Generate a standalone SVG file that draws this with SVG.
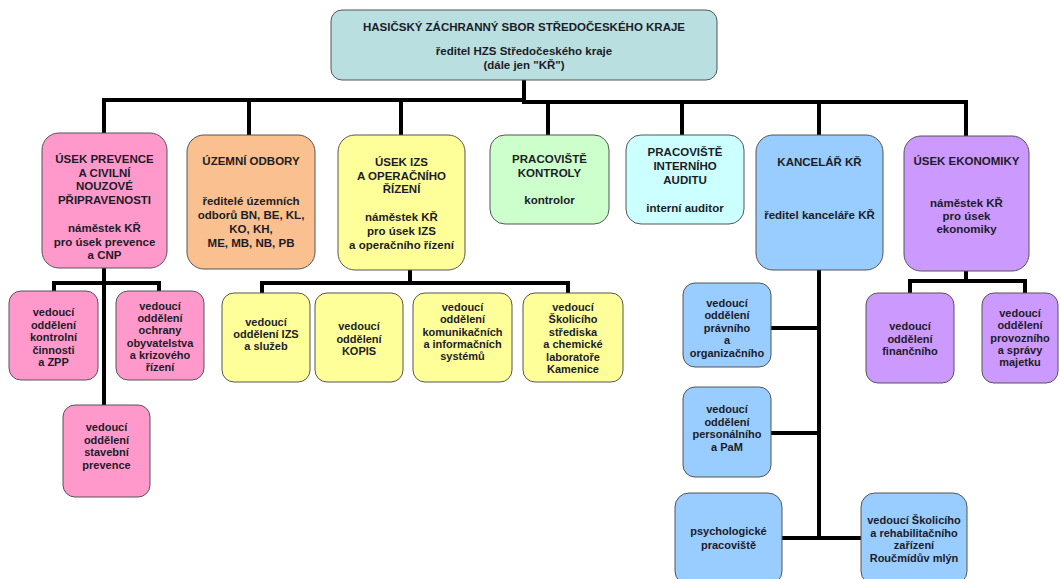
<svg xmlns="http://www.w3.org/2000/svg" width="1060" height="579" viewBox="0 0 1060 579">
<style>
.b{stroke:#555;stroke-width:1}
.t{font-family:"Liberation Sans",Arial,sans-serif;font-weight:bold;fill:#1c1c28;text-anchor:middle}
.h{font-size:11.5px}
.s{font-size:11px}
.c{fill:none;stroke:#000;stroke-width:4}
.top{fill:#b9dfe0}.pk{fill:#ff99cc}.or{fill:#fac08f}.ye{fill:#ffff99}.gr{fill:#ccffcc}.cy{fill:#ccffff}.bl{fill:#99ccff}.pu{fill:#cc99ff}
</style>
<rect width="1060" height="579" fill="#fff"/>
<g id="connectors">
<path class="c" d="M524,80 V101"/>
<path class="c" d="M102,100 H526"/>
<path class="c" d="M522,102 H968"/>
<path class="c" d="M104,100 V133 M249,100 V135 M401,100 V135"/>
<path class="c" d="M548,102 V135 M682,102 V135 M819,102 V135 M966,102 V136"/>
<path class="c" d="M104,268 V406 M54,291 V283 H159 V291"/>
<path class="c" d="M410,270 V283 M262,293 V283 H568 V293"/>
<path class="c" d="M819,270 V538 M771,328 H819 M771,433 H819 M778,538 H861"/>
<path class="c" d="M966,271 V281 M910,293 V281 H1025 V293"/>
</g>
<g id="hzs">
<rect class="b top" x="331" y="10" width="386" height="70" rx="11"/>
<text class="t h"><tspan x="524" y="31">HASIČSKÝ ZÁCHRANNÝ SBOR STŘEDOČESKÉHO KRAJE</tspan><tspan x="524" y="55">ředitel HZS Středočeského kraje</tspan><tspan x="524" y="69">(dále jen "KŘ")</tspan></text>
</g>
<g id="prevence">
<rect class="b pk" x="42" y="133" width="125" height="135" rx="17"/>
<text class="t h"><tspan x="104.5" y="163">ÚSEK PREVENCE</tspan><tspan x="104.5" y="176.5">A CIVILNÍ</tspan><tspan x="104.5" y="190">NOUZOVÉ</tspan><tspan x="104.5" y="204">PŘIPRAVENOSTI</tspan><tspan x="104.5" y="232">náměstek KŘ</tspan><tspan x="104.5" y="245.5">pro úsek prevence</tspan><tspan x="104.5" y="259">a CNP</tspan></text>
</g>
<g id="uzemni">
<rect class="b or" x="187" y="135" width="128" height="134" rx="17"/>
<text class="t h"><tspan x="251" y="165">ÚZEMNÍ ODBORY</tspan><tspan x="251" y="205">ředitelé územních</tspan><tspan x="251" y="219">odborů BN, BE, KL,</tspan><tspan x="251" y="233">KO, KH,</tspan><tspan x="251" y="247">ME, MB, NB, PB</tspan></text>
</g>
<g id="izs">
<rect class="b ye" x="338" y="135" width="127" height="135" rx="17"/>
<text class="t h"><tspan x="401.5" y="166">ÚSEK IZS</tspan><tspan x="401.5" y="179.5">A OPERAČNÍHO</tspan><tspan x="401.5" y="193">ŘÍZENÍ</tspan><tspan x="401.5" y="221">náměstek KŘ</tspan><tspan x="401.5" y="235">pro úsek IZS</tspan><tspan x="401.5" y="249">a operačního řízení</tspan></text>
</g>
<g id="kontroly">
<rect class="b gr" x="490" y="135" width="119" height="89" rx="15"/>
<text class="t h"><tspan x="549.5" y="163">PRACOVIŠTĚ</tspan><tspan x="549.5" y="177">KONTROLY</tspan><tspan x="549.5" y="204">kontrolor</tspan></text>
</g>
<g id="audit">
<rect class="b cy" x="626" y="135" width="118" height="89" rx="15"/>
<text class="t h"><tspan x="685" y="156">PRACOVIŠTĚ</tspan><tspan x="685" y="170">INTERNÍHO</tspan><tspan x="685" y="184">AUDITU</tspan><tspan x="685" y="212">interní auditor</tspan></text>
</g>
<g id="kancelar">
<rect class="b bl" x="756" y="135" width="127" height="135" rx="17"/>
<text class="t h"><tspan x="819.5" y="166">KANCELÁŘ KŘ</tspan><tspan x="819.5" y="219">ředitel kanceláře KŘ</tspan></text>
</g>
<g id="ekonomika">
<rect class="b pu" x="904" y="136" width="125" height="135" rx="17"/>
<text class="t h"><tspan x="966.5" y="165">ÚSEK EKONOMIKY</tspan><tspan x="966.5" y="207">náměstek KŘ</tspan><tspan x="966.5" y="220">pro úsek</tspan><tspan x="966.5" y="233">ekonomiky</tspan></text>
</g>
<g id="kontrolni">
<rect class="b pk" x="9" y="291" width="89" height="89" rx="12"/>
<text class="t s"><tspan x="53.5" y="316">vedoucí</tspan><tspan x="53.5" y="328.5">oddělení</tspan><tspan x="53.5" y="341">kontrolní</tspan><tspan x="53.5" y="353.5">činnosti</tspan><tspan x="53.5" y="366">a ZPP</tspan></text>
</g>
<g id="ochrana">
<rect class="b pk" x="116" y="291" width="88" height="89" rx="12"/>
<text class="t s"><tspan x="160" y="310">vedoucí</tspan><tspan x="160" y="322">oddělení</tspan><tspan x="160" y="334">ochrany</tspan><tspan x="160" y="346.5">obyvatelstva</tspan><tspan x="160" y="358.5">a krizového</tspan><tspan x="160" y="370.5">řízení</tspan></text>
</g>
<g id="stavebni">
<rect class="b pk" x="63" y="405" width="87" height="92" rx="12"/>
<text class="t s"><tspan x="106.5" y="431">vedoucí</tspan><tspan x="106.5" y="443.5">oddělení</tspan><tspan x="106.5" y="456">stavební</tspan><tspan x="106.5" y="468.5">prevence</tspan></text>
</g>
<g id="izs-sluzby">
<rect class="b ye" x="222" y="293" width="88" height="89" rx="12"/>
<text class="t s"><tspan x="266" y="326">vedoucí</tspan><tspan x="266" y="338">oddělení IZS</tspan><tspan x="266" y="350">a služeb</tspan></text>
</g>
<g id="kopis">
<rect class="b ye" x="315" y="293" width="88" height="89" rx="12"/>
<text class="t s"><tspan x="359" y="330">vedoucí</tspan><tspan x="359" y="342.5">oddělení</tspan><tspan x="359" y="355">KOPIS</tspan></text>
</g>
<g id="kis">
<rect class="b ye" x="413" y="293" width="99" height="89" rx="12"/>
<text class="t s"><tspan x="462.5" y="311">vedoucí</tspan><tspan x="462.5" y="323">oddělení</tspan><tspan x="462.5" y="335.5">komunikačních</tspan><tspan x="462.5" y="348">a informačních</tspan><tspan x="462.5" y="360">systémů</tspan></text>
</g>
<g id="kamenice">
<rect class="b ye" x="523" y="293" width="100" height="89" rx="12"/>
<text class="t s"><tspan x="573" y="311">vedoucí</tspan><tspan x="573" y="323">Školicího</tspan><tspan x="573" y="335.5">střediska</tspan><tspan x="573" y="348">a chemické</tspan><tspan x="573" y="360.5">laboratoře</tspan><tspan x="573" y="373">Kamenice</tspan></text>
</g>
<g id="pravni">
<rect class="b bl" x="683" y="283" width="88" height="84" rx="12"/>
<text class="t s"><tspan x="727" y="307">vedoucí</tspan><tspan x="727" y="319">oddělení</tspan><tspan x="727" y="332">právního</tspan><tspan x="727" y="344">a</tspan><tspan x="727" y="357">organizačního</tspan></text>
</g>
<g id="personalni">
<rect class="b bl" x="683" y="387" width="88" height="90" rx="12"/>
<text class="t s"><tspan x="727" y="413">vedoucí</tspan><tspan x="727" y="425.5">oddělení</tspan><tspan x="727" y="438">personálního</tspan><tspan x="727" y="450.5">a PaM</tspan></text>
</g>
<g id="psycholog">
<rect class="b bl" x="675" y="493" width="107" height="92" rx="14"/>
<text class="t s"><tspan x="728.5" y="535">psychologické</tspan><tspan x="728.5" y="549">pracoviště</tspan></text>
</g>
<g id="roucmiduv">
<rect class="b bl" x="861" y="493" width="106" height="92" rx="14"/>
<text class="t s"><tspan x="914" y="524">vedoucí Školicího</tspan><tspan x="914" y="536.5">a rehabilitačního</tspan><tspan x="914" y="549">zařízení</tspan><tspan x="914" y="561.5">Roučmídův mlýn</tspan></text>
</g>
<g id="financni">
<rect class="b pu" x="866" y="293" width="88" height="90" rx="12"/>
<text class="t s"><tspan x="910" y="330">vedoucí</tspan><tspan x="910" y="342.5">oddělení</tspan><tspan x="910" y="355">finančního</tspan></text>
</g>
<g id="provozni">
<rect class="b pu" x="982" y="293" width="76" height="90" rx="12"/>
<text class="t s"><tspan x="1020" y="317">vedoucí</tspan><tspan x="1020" y="329">oddělení</tspan><tspan x="1020" y="341.5">provozního</tspan><tspan x="1020" y="354">a správy</tspan><tspan x="1020" y="366">majetku</tspan></text>
</g>
</svg>
